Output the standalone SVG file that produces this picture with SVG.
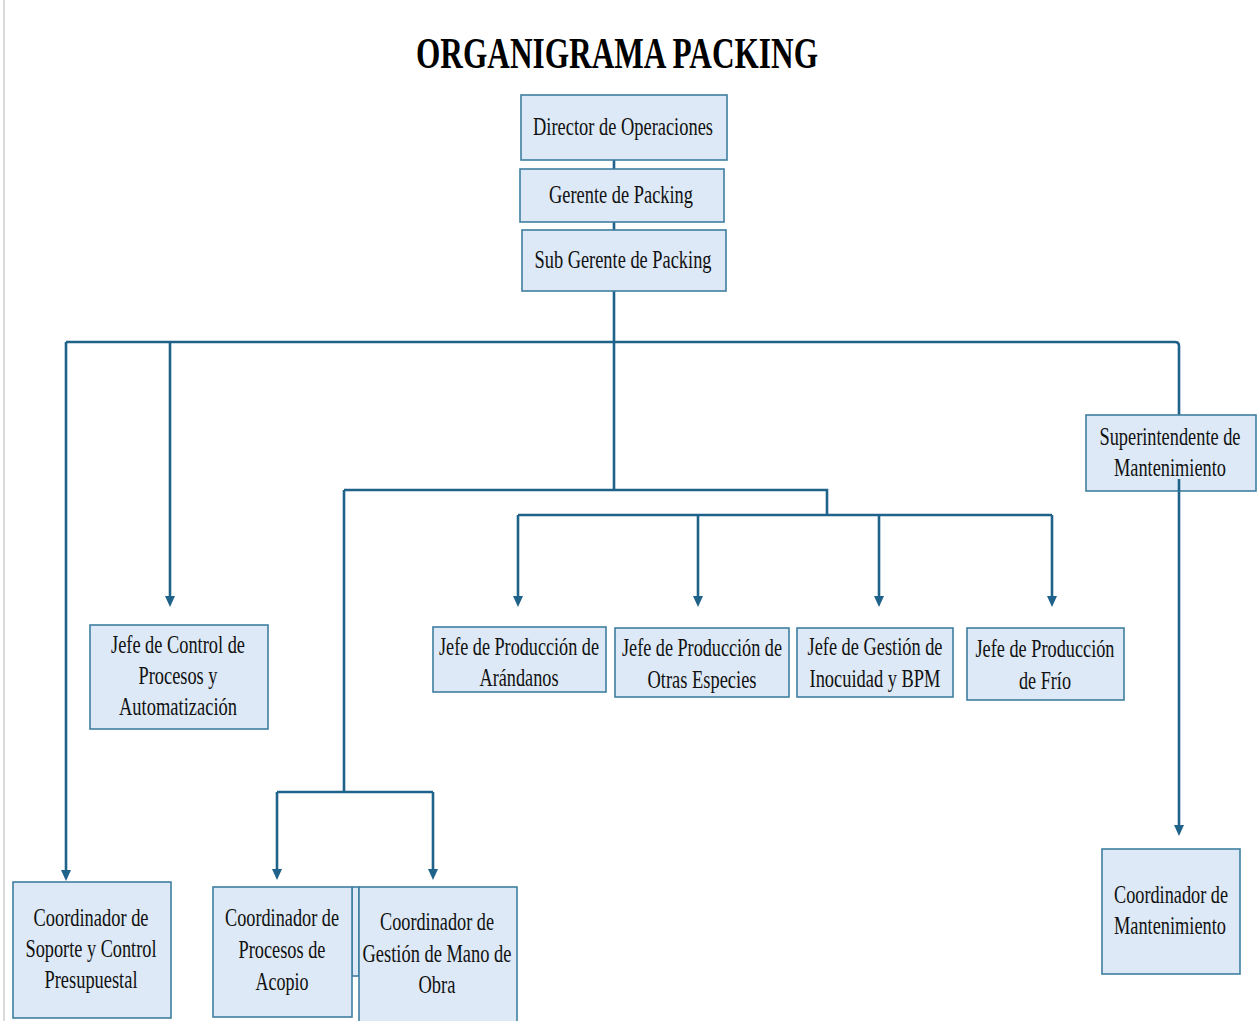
<svg xmlns="http://www.w3.org/2000/svg" width="1257" height="1021" viewBox="0 0 1257 1021">
<style>
.box{fill:#dde9f6;stroke:#3f7fa0;stroke-width:1.6}
.t{font-family:"Liberation Serif","Times New Roman",serif;font-size:25px;fill:#111;text-anchor:middle}
.title{font-family:"Liberation Serif","Times New Roman",serif;font-size:45px;font-weight:bold;fill:#000;text-anchor:middle}
.c{fill:none;stroke:#1f628a;stroke-width:2.6}
.ah{fill:#1f628a}
</style>
<rect width="1257" height="1021" fill="#fff"/>
<line x1="4" y1="0" x2="4" y2="1021" stroke="#cfcfcf" stroke-width="1.5"/>
<text class="title" x="617" y="68" textLength="402" lengthAdjust="spacingAndGlyphs">ORGANIGRAMA PACKING</text>

<g id="connectors">
<path class="c" d="M614,160 V169 M614,222 V230 M614,291 V490"/>
<path class="c" d="M66,342 H1175 Q1179,342 1179,346 V415"/>
<path class="c" d="M344,490 H827 V515 M518,515 H1052"/>
<path class="c" d="M344,490 V792 M277,792 H433"/>
<path class="c" d="M66,342 V872"/><path class="ah" d="M61,870 L71,870 L66,881 Z"/>
<path class="c" d="M170,342 V598"/><path class="ah" d="M165,596 L175,596 L170,607 Z"/>
<path class="c" d="M518,515 V598"/><path class="ah" d="M513,596 L523,596 L518,607 Z"/>
<path class="c" d="M698,515 V598"/><path class="ah" d="M693,596 L703,596 L698,607 Z"/>
<path class="c" d="M879,515 V598"/><path class="ah" d="M874,596 L884,596 L879,607 Z"/>
<path class="c" d="M1052,515 V598"/><path class="ah" d="M1047,596 L1057,596 L1052,607 Z"/>
<path class="c" d="M277,792 V871"/><path class="ah" d="M272,869 L282,869 L277,880 Z"/>
<path class="c" d="M433,792 V871"/><path class="ah" d="M428,869 L438,869 L433,880 Z"/>
<path class="c" d="M1179,491 V827"/><path class="ah" d="M1174,825 L1184,825 L1179,836 Z"/>
</g>

<g id="n-director"><rect class="box" x="521" y="95" width="206" height="65"/>
<text class="t" x="623" y="135" textLength="180" lengthAdjust="spacingAndGlyphs">Director de Operaciones</text></g>
<g id="n-gerente"><rect class="box" x="520" y="169" width="204" height="53"/>
<text class="t" x="621" y="203" textLength="144" lengthAdjust="spacingAndGlyphs">Gerente de Packing</text></g>
<g id="n-subgerente"><rect class="box" x="522" y="230" width="204" height="61"/>
<text class="t" x="623" y="268" textLength="177" lengthAdjust="spacingAndGlyphs">Sub Gerente de Packing</text></g>

<g id="n-control"><rect class="box" x="90" y="625" width="178" height="104"/>
<text class="t" x="178" y="653" textLength="134" lengthAdjust="spacingAndGlyphs">Jefe de Control de</text>
<text class="t" x="178" y="684" textLength="79" lengthAdjust="spacingAndGlyphs">Procesos y</text>
<text class="t" x="178" y="715" textLength="118" lengthAdjust="spacingAndGlyphs">Automatización</text></g>

<g id="n-arandanos"><rect class="box" x="433" y="627" width="173" height="65"/>
<text class="t" x="519" y="655" textLength="160" lengthAdjust="spacingAndGlyphs">Jefe de Producción de</text>
<text class="t" x="519" y="686" textLength="79" lengthAdjust="spacingAndGlyphs">Arándanos</text></g>
<g id="n-otras"><rect class="box" x="615" y="628" width="174" height="69"/>
<text class="t" x="702" y="656" textLength="160" lengthAdjust="spacingAndGlyphs">Jefe de Producción de</text>
<text class="t" x="702" y="688" textLength="109" lengthAdjust="spacingAndGlyphs">Otras Especies</text></g>
<g id="n-inocuidad"><rect class="box" x="797" y="628" width="156" height="69"/>
<text class="t" x="875" y="655" textLength="135" lengthAdjust="spacingAndGlyphs">Jefe de Gestión de</text>
<text class="t" x="875" y="687" textLength="131" lengthAdjust="spacingAndGlyphs">Inocuidad y BPM</text></g>
<g id="n-frio"><rect class="box" x="967" y="628" width="157" height="72"/>
<text class="t" x="1045" y="657" textLength="139" lengthAdjust="spacingAndGlyphs">Jefe de Producción</text>
<text class="t" x="1045" y="689" textLength="52" lengthAdjust="spacingAndGlyphs">de Frío</text></g>

<g id="n-superint"><rect class="box" x="1086" y="415" width="170" height="76"/>
<text class="t" x="1170" y="445" textLength="141" lengthAdjust="spacingAndGlyphs">Superintendente de</text>
<text class="t" x="1170" y="476" textLength="112" lengthAdjust="spacingAndGlyphs">Mantenimiento</text>
<path class="c" d="M1179,479 V491"/></g>
<g id="n-coordmant"><rect class="box" x="1102" y="849" width="138" height="125"/>
<text class="t" x="1171" y="903" textLength="114" lengthAdjust="spacingAndGlyphs">Coordinador de</text>
<text class="t" x="1170" y="934" textLength="112" lengthAdjust="spacingAndGlyphs">Mantenimiento</text></g>

<g id="n-soporte"><rect class="box" x="13" y="882" width="158" height="136"/>
<text class="t" x="91" y="926" textLength="115" lengthAdjust="spacingAndGlyphs">Coordinador de</text>
<text class="t" x="91" y="957" textLength="131" lengthAdjust="spacingAndGlyphs">Soporte y Control</text>
<text class="t" x="91" y="988" textLength="93" lengthAdjust="spacingAndGlyphs">Presupuestal</text></g>

<g id="n-gap"><rect class="box" x="352" y="887" width="7" height="89"/></g>
<g id="n-acopio"><rect class="box" x="213" y="887" width="139" height="130"/>
<text class="t" x="282" y="926" textLength="114" lengthAdjust="spacingAndGlyphs">Coordinador de</text>
<text class="t" x="282" y="958" textLength="87" lengthAdjust="spacingAndGlyphs">Procesos de</text>
<text class="t" x="282" y="990" textLength="53" lengthAdjust="spacingAndGlyphs">Acopio</text></g>
<g id="n-manoobra"><rect class="box" x="359" y="887" width="158" height="140"/>
<text class="t" x="437" y="930" textLength="114" lengthAdjust="spacingAndGlyphs">Coordinador de</text>
<text class="t" x="437" y="962" textLength="149" lengthAdjust="spacingAndGlyphs">Gestión de Mano de</text>
<text class="t" x="437" y="993" textLength="37" lengthAdjust="spacingAndGlyphs">Obra</text></g>
</svg>
